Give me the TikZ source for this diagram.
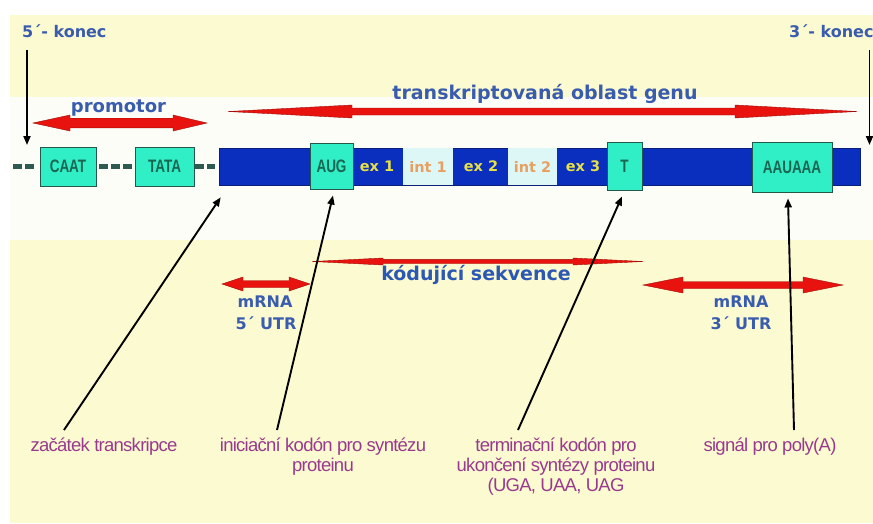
\documentclass[tikz,border=0pt]{standalone}
\usepackage{fontspec}
\setmainfont{Liberation Sans}
\newfontfamily\vfont{DejaVu Sans}
\newfontfamily\boxfont[FakeStretch=0.75]{Liberation Sans}
\newfontfamily\pfont[LetterSpace=-4]{Liberation Sans}
\usetikzlibrary{arrows.meta}
\definecolor{bgyellow}{HTML}{FCFAD0}
\definecolor{bandwhite}{HTML}{FCFDF6}
\definecolor{lblue}{HTML}{3A5CAE}
\definecolor{kblue}{HTML}{2B58B4}
\definecolor{genblue}{HTML}{0A2FBE}
\definecolor{genedge}{HTML}{0A1F7A}
\definecolor{aqua}{HTML}{30EEC6}
\definecolor{boxedge}{HTML}{24584A}
\definecolor{boxtext}{HTML}{1A6652}
\definecolor{intfill}{HTML}{DDF6F6}
\definecolor{extext}{HTML}{E8E048}
\definecolor{inttext}{HTML}{E8A060}
\definecolor{arrred}{HTML}{E8130F}
\definecolor{arrdark}{HTML}{A00E0A}
\definecolor{lpurple}{HTML}{983A8E}
\definecolor{linkgray}{HTML}{2E5A52}
\newcommand\dnaArrow[7]{%
  \fill[arrred, draw=arrdark, line width=0.4pt]
    (#1,#3) -- (#1+#4,#3-#6) -- (#1+#4,#3-#7) -- (#2-#5,#3-#7) -- (#2-#5,#3-#6)
    -- (#2,#3) -- (#2-#5,#3+#6) -- (#2-#5,#3+#7) -- (#1+#4,#3+#7) -- (#1+#4,#3+#6) -- cycle;}
\begin{document}
\begin{tikzpicture}[x=1pt,y=-1pt,
  box/.style={draw=boxedge, line width=0.9pt, fill=aqua, inner sep=0pt, text=boxtext,
    font=\boxfont\bfseries\fontsize{18}{18}\selectfont},
  intbox/.style={fill=intfill, inner sep=0pt, text=inttext, minimum height=37pt,
    font=\vfont\bfseries\fontsize{14.5}{14.5}\selectfont},
  extxt/.style={inner sep=0pt, text=extext, font=\vfont\bfseries\fontsize{14.5}{14.5}\selectfont},
  bluelbl/.style={inner sep=0pt, text=lblue, anchor=base},
  purplbl/.style={inner sep=0pt, text=lpurple, anchor=base, align=center,
    font=\pfont\fontsize{18.5}{20}\selectfont},
  linker/.style={linkgray, line width=5pt, dash pattern=on 9pt off 3pt},
  ptr/.style={black, line width=1.9pt, -{Triangle[length=9pt,width=7pt]}},
]
\useasboundingbox (0,0) rectangle (873,523);
% background
\fill[white] (0,0) rectangle (873,523);
\fill[bgyellow] (10,15) rectangle (873,523);
\fill[bandwhite] (10,97) rectangle (873,240);

% top labels
\node[bluelbl, anchor=base west, font=\vfont\bfseries\fontsize{16}{16}\selectfont] (k5) at (22,37) {5´- konec};
\node[bluelbl, anchor=base west, font=\vfont\bfseries\fontsize{16}{16}\selectfont] (k3) at (789,37) {3´- konec};
\node[bluelbl, font=\vfont\bfseries\fontsize{18}{18}\selectfont] (prom) at (118.5,112) {promotor};
\node[bluelbl, font=\vfont\bfseries\fontsize{19}{19}\selectfont] (trans) at (545,99) {transkriptovaná oblast genu};

% red arrows (top)
\dnaArrow{33}{207}{123}{37}{34}{8}{4.8}
\dnaArrow{228}{857}{111.5}{124}{122}{6.5}{3.5}

% gene strip
\draw[linker] (13,166.5) -- (35,166.5);
\draw[linker] (99,166.5) -- (133,166.5);
\draw[linker] (195,166.5) -- (215,166.5);
\node[box, minimum width=56pt, minimum height=39pt] (caat) at (68,166.5) {CAAT};
\node[box, minimum width=59pt, minimum height=39pt] (tata) at (164.5,166.5) {TATA};
\node[fill=genblue, draw=genedge, line width=0.6pt, minimum width=641pt, minimum height=37pt, inner sep=0pt] (bar) at (539.5,166.5) {};
\node[intbox, minimum width=50pt] (int1) at (428,166.5) {int 1};
\node[intbox, minimum width=49pt] (int2) at (532.5,166.5) {int 2};
\node[extxt] (ex1) at (377,166.5) {ex 1};
\node[extxt] (ex2) at (481,166.5) {ex 2};
\node[extxt] (ex3) at (583,166.5) {ex 3};
\node[box, minimum width=43pt, minimum height=46pt] (aug) at (331.5,166) {AUG};
\node[box, minimum width=35pt, minimum height=48pt] (tbox) at (624.5,166) {T};
\node[box, minimum width=80pt, minimum height=50pt] (polya) at (792,167) {AAUAAA};

% end pointers
\coordinate (k5s) at (27,50);
\coordinate (k5e) at (27,145);
\coordinate (k3s) at (869.5,50);
\coordinate (k3e) at (869.5,145);
\draw[ptr] (k5s) -- (k5e);
\draw[ptr] (k3s) -- (k3e);

% lower red arrows and labels
\dnaArrow{312}{643}{261.5}{71}{70}{3.5}{2.2}
\dnaArrow{222}{310}{284}{21}{21}{7}{3.5}
\dnaArrow{643}{843}{285}{40}{40}{8}{3.5}
\node[bluelbl, text=kblue, font=\vfont\bfseries\fontsize{19}{19}\selectfont] (kod) at (476,280) {kódující sekvence};
\node[bluelbl, font=\vfont\bfseries\fontsize{16}{16}\selectfont] (m5a) at (265,307) {mRNA};
\node[bluelbl, font=\vfont\bfseries\fontsize{16}{16}\selectfont] (m5b) at (266,329) {5´ UTR};
\node[bluelbl, font=\vfont\bfseries\fontsize{16}{16}\selectfont] (m3a) at (741,307) {mRNA};
\node[bluelbl, font=\vfont\bfseries\fontsize{16}{16}\selectfont] (m3b) at (741,329) {3´ UTR};

% bottom labels (base = last line's baseline)
\node[purplbl] (lzac) at (104,451) {začátek transkripce};
\node[purplbl] (lini) at (323,471) {iniciační kodón pro syntézu\\proteinu};
\node[purplbl] (lter) at (556,491) {terminační kodón pro\\ukončení syntézy proteinu\\(UGA, UAA, UAG};
\node[purplbl] (lsig) at (770,451) {signál pro poly(A)};

\coordinate (pzac) at (64,430);
\coordinate (pini) at (277,430);
\coordinate (pter) at (518,430);
\coordinate (psig) at (794,430);
\draw[ptr] (pzac) -- ([xshift=2pt,yshift=-12pt]bar.south west);
\draw[ptr] (pini) -- ([xshift=1.5pt,yshift=-6pt]aug.south);
\draw[ptr] (pter) -- ([xshift=-2.5pt,yshift=-6pt]tbox.south);
\draw[ptr] (psig) -- ([xshift=-4pt,yshift=-6pt]polya.south);
\end{tikzpicture}
\end{document}
